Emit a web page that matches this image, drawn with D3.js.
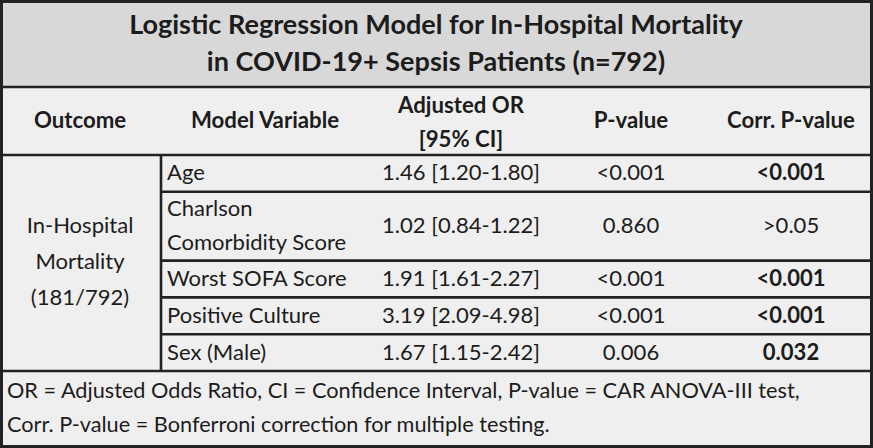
<!DOCTYPE html>
<html>
<head>
<meta charset="utf-8">
<script src="https://cdn.jsdelivr.net/npm/d3@7"></script>
<style>
  html, body { margin: 0; padding: 0; background: #fff; }
  svg { display: block; }
  text { font-family: Lato, "Open Sans", sans-serif; fill: #1c1c1c; }
</style>
</head>
<body>
<svg id="chart" width="873" height="448"></svg>
<script>
// ---- Data ----
const titleLines = ["Logistic Regression Model for In-Hospital Mortality", "in COVID-19+ Sepsis Patients (n=792)"];
const headers = [["Outcome"], ["Model Variable"], ["Adjusted OR", "[95% CI]"], ["P-value"], ["Corr. P-value"]];
const outcomeLabel = ["In-Hospital", "Mortality", "(181/792)"];
const variables = [["Age"], ["Charlson", "Comorbidity Score"], ["Worst SOFA Score"], ["Positive Culture"], ["Sex (Male)"]];
const oddsRatios = ["1.46 [1.20-1.80]", "1.02 [0.84-1.22]", "1.91 [1.61-2.27]", "3.19 [2.09-4.98]", "1.67 [1.15-2.42]"];
const pValues = ["<0.001", "0.860", "<0.001", "<0.001", "0.006"];
const corrPValues = ["<0.001", ">0.05", "<0.001", "<0.001", "0.032"];
const corrBold = [true, false, true, true, true];
const footnote = ["OR = Adjusted Odds Ratio, CI = Confidence Interval, P-value = CAR ANOVA-III test,", "Corr. P-value = Bonferroni correction for multiple testing."];

// ---- Layout ----
const W = 873, H = 448;
const svg = d3.select("#chart");
const colEdges = [0, 161, 375, 548, 715, 871];
const colCenter = d3.scaleOrdinal().domain(d3.range(5)).range([80, 265, 461, 631, 791]);
const titleTop = 0, titleBottom = 87, headerBottom = 155, footerTop = 371, bottom = 446;
const lineH = 34.5;

// row heights based on number of text lines
const rowUnits = variables.map(v => v.length);
const totalUnits = d3.sum(rowUnits.map(n => n === 1 ? 1 : 1.87));
const rowScale = d3.scaleLinear().domain([0, totalUnits]).range([headerBottom, footerTop]);
let acc = 0;
const rows = rowUnits.map((n, i) => {
  const u = n === 1 ? 1 : 1.87;
  const r = { y0: rowScale(acc), y1: rowScale(acc + u), n };
  acc += u; return r;
});

// fit font sizes to measured widths
function fitSize(str, weight, targetW) {
  const t = svg.append("text").attr("font-size", 100).attr("font-weight", weight).text(str);
  const w = t.node().getComputedTextLength();
  t.remove();
  return 100 * targetW / w;
}
const titleSize = fitSize(titleLines[0], "bold", 614);
const headerSize = fitSize("Corr. P-value", "bold", 128);
const bodySize = fitSize(oddsRatios[0], "normal", 158);
const footSize = fitSize(footnote[0], "normal", 793);

// backgrounds
svg.append("rect").attr("x", 0).attr("y", 0).attr("width", W).attr("height", H).attr("fill", "#efefef");
svg.append("rect").attr("x", 0).attr("y", titleTop).attr("width", W).attr("height", titleBottom).attr("fill", "#d8d8d8");

// title
svg.append("g").selectAll("text").data(titleLines).join("text")
  .attr("x", 436).attr("y", (d, i) => 34 + i * 37)
  .attr("text-anchor", "middle").attr("font-weight", "bold").attr("font-size", titleSize)
  .text(d => d);

// header
const hg = svg.append("g");
headers.forEach((lines, ci) => {
  const mid = (titleBottom + headerBottom) / 2;
  lines.forEach((l, li) => {
    hg.append("text")
      .attr("x", colCenter(ci))
      .attr("y", lines.length === 1 ? mid + 7 : 113 + li * 34)
      .attr("text-anchor", "middle").attr("font-weight", "bold").attr("font-size", headerSize)
      .text(l);
  });
});

// body rows
const bg = svg.append("g");
rows.forEach((r, i) => {
  const mid = (r.y0 + r.y1) / 2;
  variables[i].forEach((l, li) => {
    bg.append("text").attr("x", 167)
      .attr("y", mid + 7 + (li - (variables[i].length - 1) / 2) * lineH)
      .attr("font-size", bodySize).text(l);
  });
  [oddsRatios[i], pValues[i], corrPValues[i]].forEach((v, k) => {
    bg.append("text").attr("x", colCenter(k + 2)).attr("y", mid + 7)
      .attr("text-anchor", "middle").attr("font-size", bodySize)
      .attr("font-weight", k === 2 && corrBold[i] ? "bold" : "normal")
      .text(v);
  });
});
// outcome label
const omid = (headerBottom + footerTop) / 2;
bg.selectAll(".out").data(outcomeLabel).join("text").attr("class", "out")
  .attr("x", colCenter(0)).attr("y", (d, i) => omid + 6 + (i - 1) * 36)
  .attr("text-anchor", "middle").attr("font-size", bodySize).text(d => d);

// footnote
svg.append("g").selectAll("text").data(footnote).join("text")
  .attr("x", 7).attr("y", (d, i) => 398 + i * 34)
  .attr("font-size", footSize).text(d => d);

// lines
const lines = svg.append("g").attr("stroke", "#222").attr("stroke-width", 2.6).attr("fill", "none");
lines.append("line").attr("x1", 0).attr("x2", W).attr("y1", titleBottom).attr("y2", titleBottom);
lines.append("line").attr("x1", 0).attr("x2", W).attr("y1", headerBottom).attr("y2", headerBottom);
rows.slice(0, -1).forEach(r => {
  lines.append("line").attr("x1", colEdges[1]).attr("x2", W).attr("y1", r.y1).attr("y2", r.y1);
});
lines.append("line").attr("x1", 0).attr("x2", W).attr("y1", footerTop).attr("y2", footerTop);
lines.append("line").attr("x1", colEdges[1]).attr("x2", colEdges[1]).attr("y1", headerBottom).attr("y2", footerTop);
lines.append("rect").attr("x", 1.5).attr("y", 1.5).attr("width", W - 3).attr("height", H - 3).attr("stroke-width", 3);
</script>
</body>
</html>
